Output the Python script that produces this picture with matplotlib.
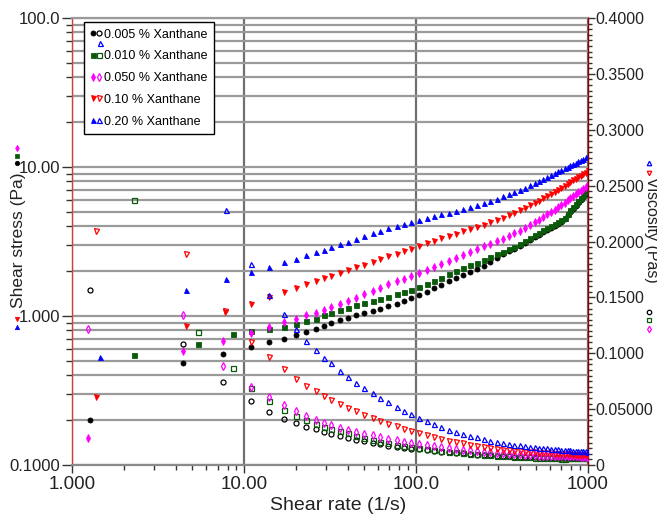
import matplotlib
matplotlib.use("Agg")
import matplotlib.pyplot as plt
from matplotlib.lines import Line2D
from matplotlib.legend_handler import HandlerTuple
from matplotlib.ticker import NullFormatter, MultipleLocator, LogLocator

plt.rcParams['font.family'] = ['Liberation Sans', 'DejaVu Sans']

# ---------------- data ----------------
labels = ["0.005 % Xanthane", "0.010 % Xanthane", "0.050 % Xanthane",
          "0.10 % Xanthane", "0.20 % Xanthane"]
colors = ["#000000", "#0b5a0b", "#ff00ff", "#ff0000", "#0000ff"]
markers = ["o", "s", "d", "v", "^"]

# first (sparse) points of each run: shear rate (1/s), shear stress (Pa), viscosity (Pas)
low_rate_005 = [1.27, 4.41, 7.56]
low_stress_005 = [0.20, 0.48, 0.56]
low_visc_005 = [0.157, 0.108, 0.074]

low_rate_010 = [2.29, 5.41, 8.6]
low_stress_010 = [0.551, 0.653, 0.762]
low_visc_010 = [0.237, 0.119, 0.087]

low_rate_050 = [1.23, 4.39, 7.56]
low_stress_050 = [0.151, 0.583, 0.68]
low_visc_050 = [0.1215, 0.134, 0.089]

low_rate_10 = [1.37, 4.57, 7.7]
low_stress_10 = [0.284, 0.857, 1.06]
low_visc_10 = [0.209, 0.189, 0.138]

low_rate_20 = [1.44, 4.58, 7.84]
low_stress_20 = [0.531, 1.50, 1.76]
low_visc_20 = [0.378, float('nan'), 0.228]

# main ramp, shared shear rates (1/s)
shear_rate = [11, 14, 17, 20, 23, 26, 29, 32, 36, 40, 45, 50, 56, 62, 69, 77, 85, 94,
              104, 115, 127, 140, 155, 170, 187, 205, 225, 247, 270, 295, 320, 345,
              370, 400, 430, 460, 490, 520, 550, 580, 610, 640, 670, 700, 730, 760,
              790, 820, 850, 880, 910, 940, 970, 1000]

stress_005 = [0.624, 0.664, 0.705, 0.745, 0.780, 0.815, 0.857, 0.895, 0.935, 0.973,
              1.01, 1.04, 1.08, 1.11, 1.16, 1.21, 1.26, 1.32, 1.39, 1.46, 1.54, 1.62,
              1.72, 1.80, 1.89, 1.98, 2.07, 2.17, 2.30, 2.45, 2.59, 2.72, 2.83, 2.97,
              3.11, 3.25, 3.38, 3.51, 3.64, 3.77, 3.89, 4.02, 4.14, 4.28, 4.48, 4.73,
              4.98, 5.24, 5.48, 5.74, 6.01, 6.28, 6.56, 6.84]
visc_005 = [0.0575, 0.0470, 0.0410, 0.0372, 0.0342, 0.0318, 0.0298, 0.0278, 0.0258,
            0.0244, 0.0228, 0.0213, 0.0198, 0.0185, 0.0174, 0.0165, 0.0156, 0.0147,
            0.0140, 0.0132, 0.0125, 0.0119, 0.0113, 0.0108, 0.0103, 0.0098, 0.0093,
            0.0089, 0.0086, 0.0083, 0.0081, 0.0079, 0.0076, 0.0074, 0.0072, 0.0071,
            0.0069, 0.0068, 0.0066, 0.0065, 0.0064, 0.0063, 0.0062, 0.0061, 0.0061,
            0.0062, 0.0063, 0.0064, 0.0064, 0.0065, 0.0066, 0.0067, 0.0068, 0.0068]

stress_010 = [0.794, 0.820, 0.849, 0.881, 0.923, 0.962, 1.01, 1.05, 1.10, 1.14, 1.19,
              1.22, 1.26, 1.31, 1.35, 1.40, 1.45, 1.50, 1.57, 1.65, 1.73, 1.81, 1.91,
              2.00, 2.10, 2.19, 2.28, 2.38, 2.48, 2.59, 2.70, 2.82, 2.92, 3.05, 3.20,
              3.35, 3.49, 3.63, 3.77, 3.90, 4.03, 4.16, 4.29, 4.42, 4.57, 4.85, 5.12,
              5.40, 5.65, 5.93, 6.21, 6.50, 6.79, 7.08]
visc_010 = [0.0690, 0.0575, 0.0495, 0.0438, 0.0400, 0.0368, 0.0343, 0.0323, 0.0302,
            0.0282, 0.0262, 0.0242, 0.0224, 0.0210, 0.0196, 0.0182, 0.0171, 0.0160,
            0.0151, 0.0143, 0.0135, 0.0127, 0.0120, 0.0114, 0.0108, 0.0102, 0.0097,
            0.0092, 0.0088, 0.0084, 0.0080, 0.0078, 0.0075, 0.0072, 0.0070, 0.0068,
            0.0066, 0.0065, 0.0063, 0.0062, 0.0061, 0.0060, 0.0059, 0.0058, 0.0058,
            0.0059, 0.0060, 0.0061, 0.0062, 0.0063, 0.0064, 0.0065, 0.0066, 0.0067]

stress_050 = [0.764, 0.847, 0.910, 0.959, 1.01, 1.05, 1.10, 1.15, 1.21, 1.26, 1.33,
              1.40, 1.48, 1.55, 1.63, 1.71, 1.78, 1.86, 1.95, 2.04, 2.13, 2.23, 2.34,
              2.45, 2.58, 2.70, 2.81, 2.93, 3.05, 3.18, 3.31, 3.45, 3.58, 3.74, 3.92,
              4.09, 4.26, 4.44, 4.62, 4.80, 4.98, 5.15, 5.36, 5.56, 5.75, 5.96, 6.17,
              6.35, 6.55, 6.75, 6.95, 7.14, 7.35, 7.59]
visc_050 = [0.0700, 0.0605, 0.0535, 0.0480, 0.0439, 0.0404, 0.0379, 0.0355, 0.0334,
            0.0315, 0.0296, 0.0280, 0.0264, 0.0250, 0.0236, 0.0222, 0.0209, 0.0198,
            0.0188, 0.0177, 0.0168, 0.0159, 0.0151, 0.0144, 0.0138, 0.0132, 0.0125,
            0.0119, 0.0113, 0.0108, 0.0103, 0.0100, 0.0097, 0.0094, 0.0091, 0.0089,
            0.0087, 0.0085, 0.0084, 0.0083, 0.0082, 0.0080, 0.0080, 0.0079, 0.0079,
            0.0078, 0.0078, 0.0077, 0.0077, 0.0077, 0.0076, 0.0076, 0.0076, 0.0076]

stress_10 = [1.20, 1.34, 1.45, 1.55, 1.64, 1.71, 1.79, 1.85, 1.95, 2.03, 2.12, 2.21,
             2.31, 2.41, 2.51, 2.62, 2.72, 2.83, 2.95, 3.07, 3.19, 3.32, 3.46, 3.57,
             3.70, 3.82, 3.95, 4.09, 4.25, 4.42, 4.57, 4.74, 4.91, 5.11, 5.31, 5.52,
             5.71, 5.94, 6.17, 6.38, 6.61, 6.82, 7.05, 7.28, 7.48, 7.71, 7.92, 8.13,
             8.32, 8.53, 8.73, 8.93, 9.14, 9.33]
visc_10 = [0.110, 0.0966, 0.086, 0.077, 0.071, 0.066, 0.062, 0.058, 0.0545, 0.051,
           0.048, 0.0448, 0.0418, 0.0393, 0.0368, 0.0345, 0.0325, 0.0305, 0.0285,
           0.0266, 0.0250, 0.0235, 0.0219, 0.0206, 0.0193, 0.0181, 0.0170, 0.0160,
           0.0152, 0.0144, 0.0138, 0.0132, 0.0127, 0.0123, 0.0119, 0.0115, 0.0112,
           0.0109, 0.0107, 0.0105, 0.0103, 0.0101, 0.0099, 0.0098, 0.0096, 0.0095,
           0.0094, 0.0093, 0.0092, 0.0091, 0.0090, 0.0089, 0.0089, 0.0088]

stress_20 = [1.97, 2.13, 2.30, 2.43, 2.56, 2.67, 2.79, 2.90, 3.03, 3.15, 3.30, 3.44,
             3.59, 3.73, 3.87, 4.02, 4.14, 4.27, 4.40, 4.53, 4.67, 4.80, 4.92, 5.06,
             5.21, 5.37, 5.55, 5.73, 5.92, 6.14, 6.34, 6.55, 6.75, 6.98, 7.24, 7.52,
             7.76, 8.04, 8.30, 8.57, 8.83, 9.10, 9.33, 9.57, 9.82, 10.05, 10.3, 10.5,
             10.7, 11.0, 11.2, 11.4, 11.7, 11.9]
visc_20 = [0.180, 0.152, 0.135, 0.122, 0.111, 0.103, 0.096, 0.091, 0.084, 0.079,
           0.073, 0.069, 0.064, 0.060, 0.056, 0.052, 0.0487, 0.0454, 0.0423, 0.0394,
           0.0368, 0.0343, 0.0317, 0.0298, 0.0279, 0.0262, 0.0247, 0.0232, 0.0219,
           0.0208, 0.0198, 0.0190, 0.0182, 0.0175, 0.0168, 0.0163, 0.0158, 0.0155,
           0.0151, 0.0148, 0.0145, 0.0142, 0.0139, 0.0137, 0.0135, 0.0132, 0.0130,
           0.0128, 0.0126, 0.0125, 0.0123, 0.0121, 0.0121, 0.0119]

low_rates = [low_rate_005, low_rate_010, low_rate_050, low_rate_10, low_rate_20]
low_stresses = [low_stress_005, low_stress_010, low_stress_050, low_stress_10, low_stress_20]
low_viscs = [low_visc_005, low_visc_010, low_visc_050, low_visc_10, low_visc_20]
stresses = [stress_005, stress_010, stress_050, stress_10, stress_20]
viscs = [visc_005, visc_010, visc_050, visc_10, visc_20]

x_ticks = [1, 10, 100, 1000]
x_ticklabels = ["1.000", "10.00", "100.0", "1000"]
y_ticks = [0.1, 1, 10, 100]
y_ticklabels = ["0.1000", "1.000", "10.00", "100.0"]
y2_ticks = [0, 0.05, 0.1, 0.15, 0.2, 0.25, 0.3, 0.35, 0.4]
y2_ticklabels = ["0", "0.05000", "0.1000", "0.1500", "0.2000", "0.2500",
                 "0.3000", "0.3500", "0.4000"]

# ---------------- figure ----------------
W, H = 657, 515
fig = plt.figure(figsize=(W / 100, H / 100), dpi=100)
L, R, T, B = 72.3, 588.0, 18.0, 465.0
ax1 = fig.add_axes([L / W, 1 - B / H, (R - L) / W, (B - T) / H])
ax2 = ax1.twinx()

ms = 3.6
msize = {"o": ms, "s": ms, "d": ms + 0.6, "v": ms, "^": ms}
for i in range(5):
    xr = low_rates[i] + shear_rate
    ys = low_stresses[i] + stresses[i]
    yv = low_viscs[i] + viscs[i]
    m = markers[i]
    ax1.plot(xr, ys, ls='none', marker=m, ms=msize[m], color=colors[i],
             mec=colors[i], mew=0.6, zorder=3)
    ax2.plot(xr, yv, ls='none', marker=m, ms=msize[m], mfc='none',
             mec=colors[i], mew=0.9, zorder=3)

ax1.set_xscale('log')
ax1.set_yscale('log')
ax1.set_xlim(1, 1000)
ax1.set_ylim(0.1, 100)
ax1.set_xticks(x_ticks, labels=x_ticklabels)
ax1.set_yticks(y_ticks, labels=y_ticklabels)
ax1.xaxis.set_minor_locator(LogLocator(base=10, subs=range(2, 10)))
ax1.yaxis.set_minor_locator(LogLocator(base=10, subs=range(2, 10)))
ax1.xaxis.set_minor_formatter(NullFormatter())
ax1.yaxis.set_minor_formatter(NullFormatter())

ax1.yaxis.grid(True, which='both', color='#9a9a9a', lw=1.6, zorder=0)
ax1.xaxis.grid(True, which='major', color='#707070', lw=1.6, zorder=0)
ax1.set_axisbelow(True)

ax1.tick_params(axis='y', which='major', direction='out', length=7, width=1,
                color='#333333', labelsize=12, pad=1.5, labelcolor='#222222')
ax1.tick_params(axis='y', which='minor', direction='out', length=4, width=1,
                color='#333333')
ax1.tick_params(axis='x', which='major', direction='out', length=6, width=1,
                color='#333333', labelsize=13.5, pad=2, labelcolor='#222222')
ax1.tick_params(axis='x', which='minor', direction='out', length=3.5, width=1,
                color='#333333')

ax1.spines['left'].set_color('#cc4040')
ax1.spines['left'].set_linewidth(1.0)
ax1.spines['right'].set_visible(False)
ax1.spines['top'].set_color('#9a9a9a')
ax1.spines['top'].set_linewidth(1.6)
ax1.spines['bottom'].set_color('#8a8a8a')
ax1.spines['bottom'].set_linewidth(1.6)

ax2.set_ylim(0, 0.4)
ax2.set_yticks(y2_ticks, labels=y2_ticklabels)
ax2.yaxis.set_minor_locator(MultipleLocator(0.005))
ax2.tick_params(axis='y', which='major', direction='out', length=5, width=1,
                color='#333333', labelsize=11.5, pad=0.5, labelcolor='#222222')
ax2.tick_params(axis='y', which='minor', direction='out', length=3, width=1,
                color='#333333')
for s in ['left', 'top', 'bottom']:
    ax2.spines[s].set_visible(False)
ax2.spines['right'].set_color('#8b0000')
ax2.spines['right'].set_linewidth(1.0)

# legend (filled = shear stress, open = viscosity)
handles = []
for i in range(5):
    m = markers[i]
    h_f = Line2D([], [], ls='none', marker=m, ms=msize[m], color=colors[i], mew=0.6)
    h_o = Line2D([], [], ls='none', marker=m, ms=msize[m], mfc='none',
                 mec=colors[i], mew=0.9)
    handles.append((h_f, h_o))
leg = ax1.legend(handles, labels, handler_map={tuple: HandlerTuple(ndivide=None, pad=0.15)},
                 loc='upper left', bbox_to_anchor=((84.3 - L) / (R - L), (B - 21.7) / (B - T)),
                 borderaxespad=0, fontsize=9, frameon=True, fancybox=False,
                 framealpha=1, edgecolor='black', labelspacing=0.78,
                 handlelength=0.8, handletextpad=0.2, borderpad=0.55)
leg.get_frame().set_linewidth(1.0)

# axis titles
fig.text(338 / W, 1 - 505 / H, "Shear rate (1/s)", ha='center', va='center',
         fontsize=14, color='#222222')
fig.text(19 / W, 1 - 240 / H, "Shear stress (Pa)", ha='center', va='center',
         rotation=90, fontsize=12.5, color='#222222')
fig.text(651 / W, 1 - 230 / H, "Viscosity (Pas)", ha='center', va='center',
         rotation=270, fontsize=11.5, color='#222222')

# little series symbols next to the axis titles
def fig_marker(x, y, mk, col, filled):
    kw = dict(ls='none', marker=mk, ms=3.2, transform=fig.transFigure)
    if filled:
        kw.update(color=col, mew=0.5)
    else:
        kw.update(mfc='none', mec=col, mew=0.9)
    fig.add_artist(Line2D([x / W], [1 - y / H], **kw))

fig_marker(16.7, 148.3, 'd', colors[2], True)
fig_marker(16.7, 156.0, 's', colors[1], True)
fig_marker(16.7, 163.3, 'o', colors[0], True)
fig_marker(16.7, 319.0, 'v', colors[3], True)
fig_marker(17.0, 327.3, '^', colors[4], True)

fig_marker(649.3, 163.3, '^', colors[4], False)
fig_marker(649.3, 172.7, 'v', colors[3], False)
fig_marker(649.3, 311.7, 'o', colors[0], False)
fig_marker(649.3, 320.0, 's', colors[1], False)
fig_marker(649.3, 328.5, 'd', colors[2], False)

fig.savefig("out.png", dpi=100)
